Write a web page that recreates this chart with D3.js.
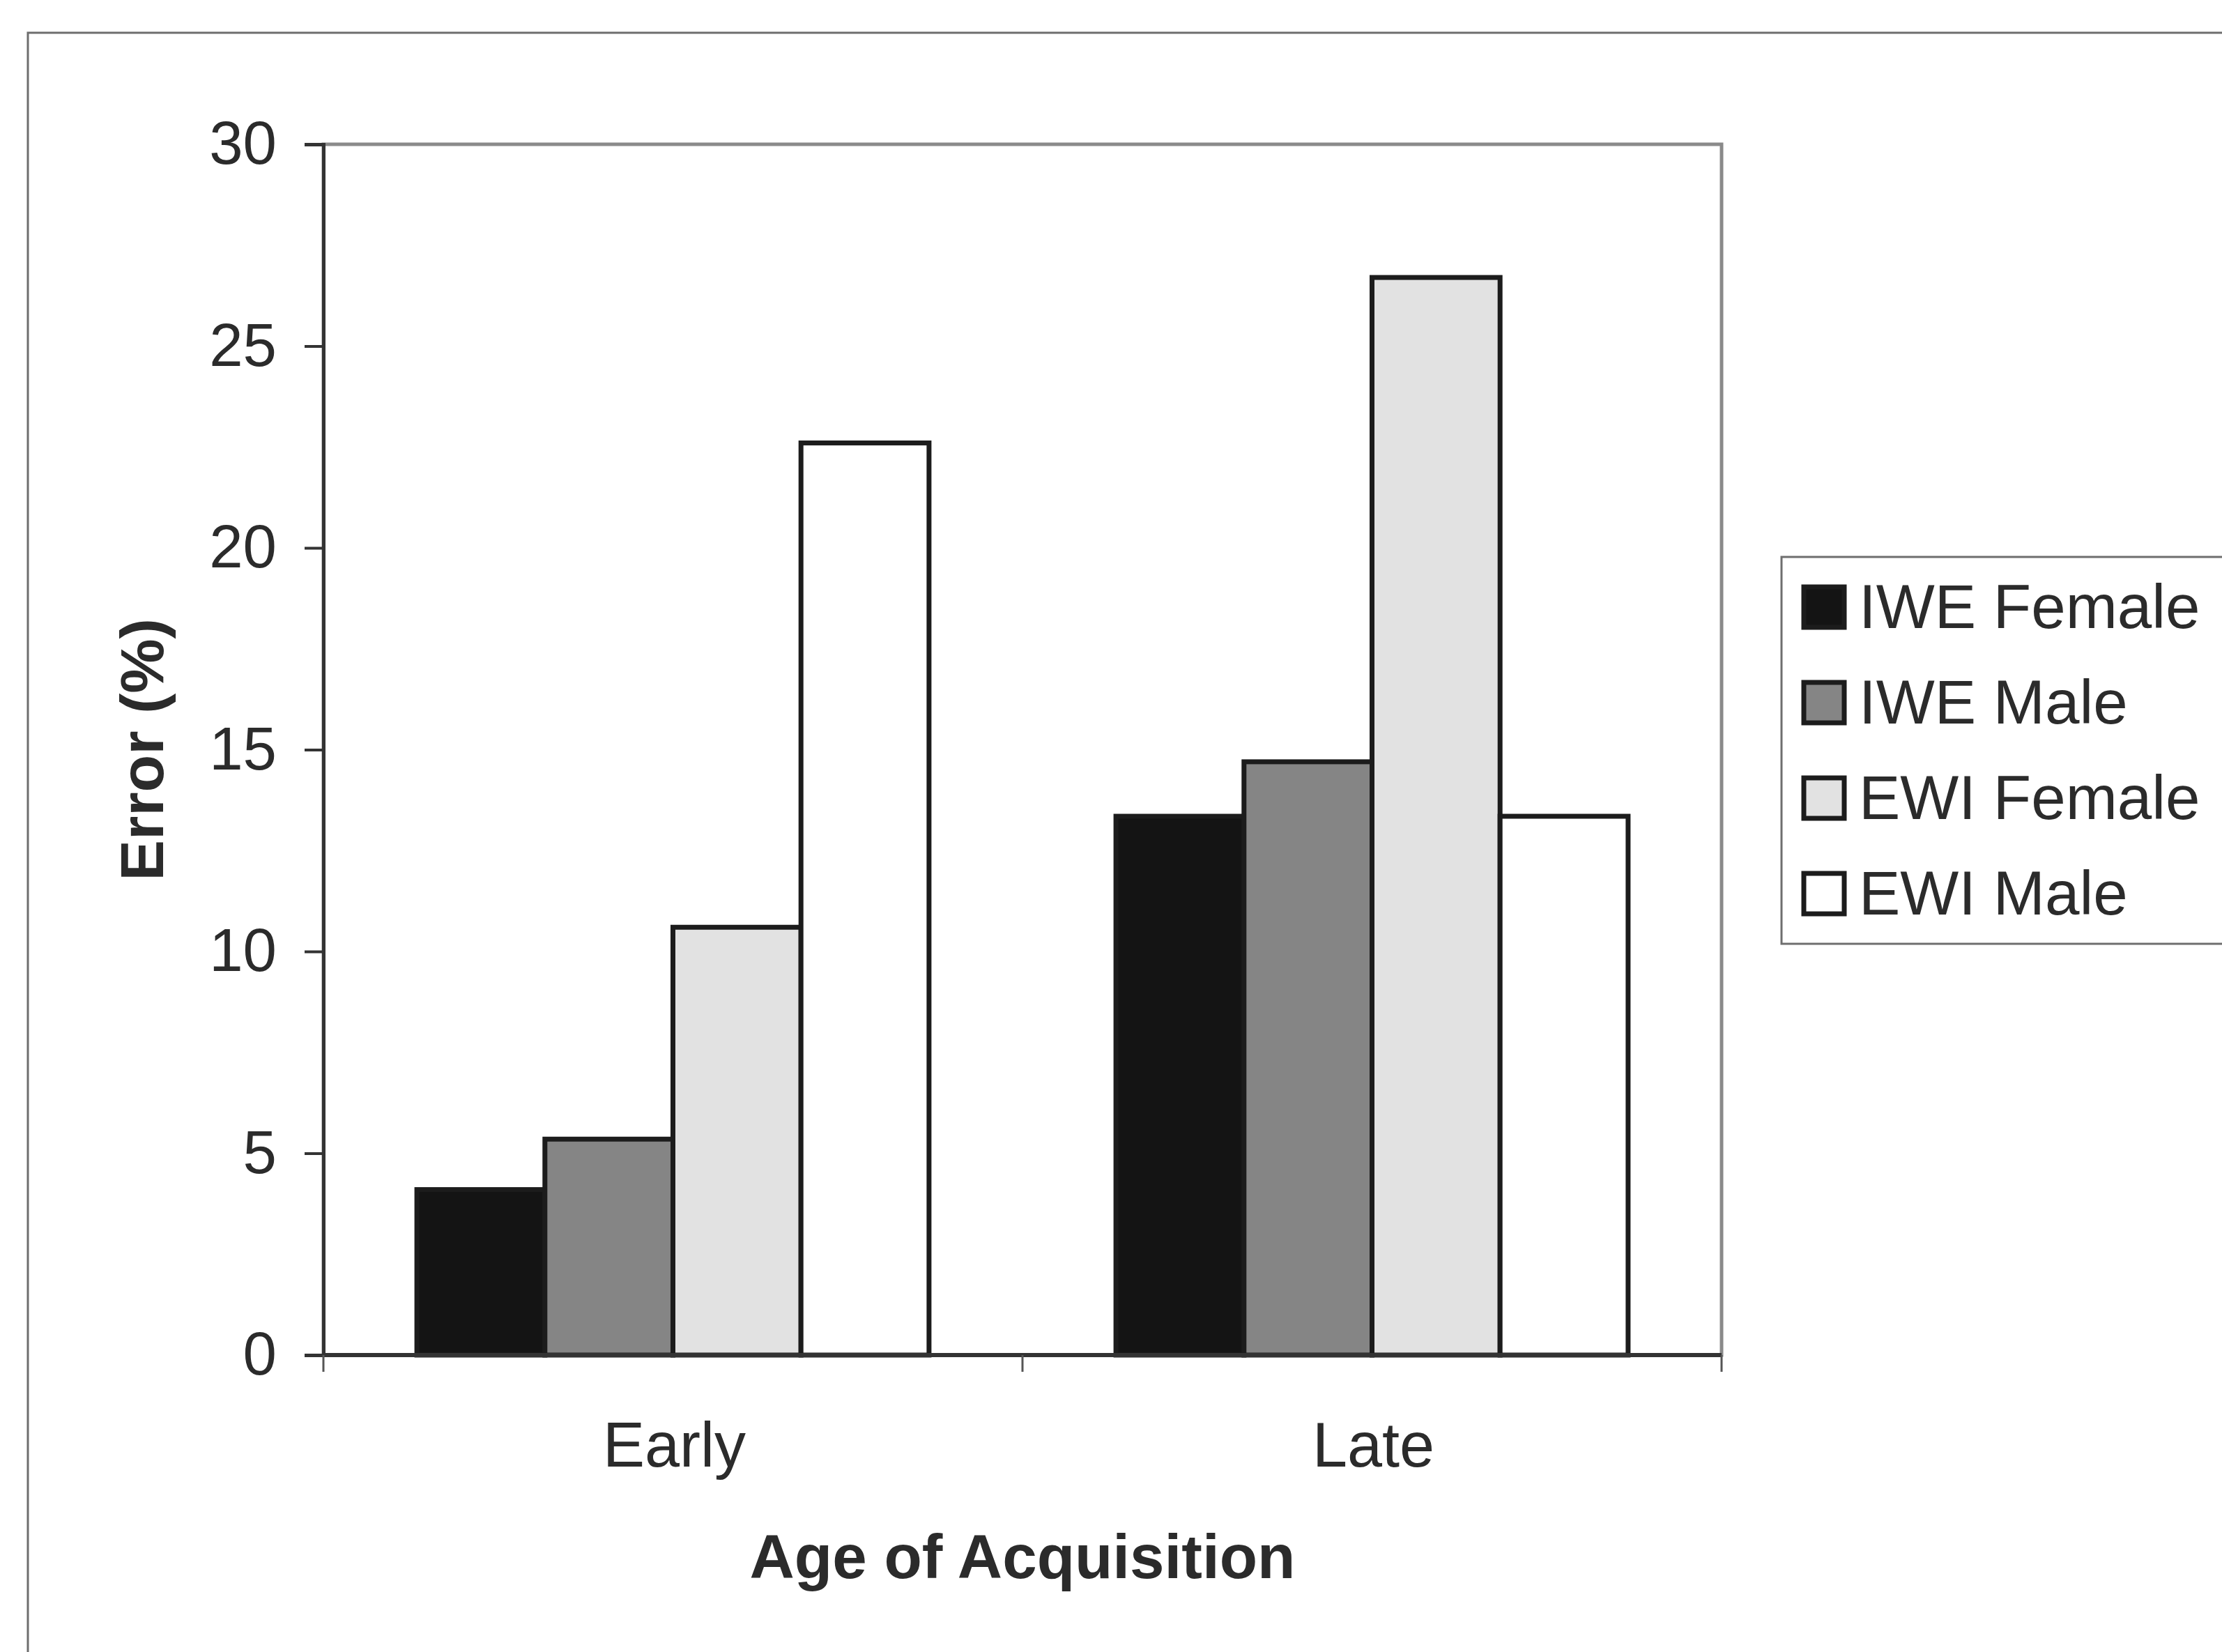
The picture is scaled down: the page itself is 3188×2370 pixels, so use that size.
<!DOCTYPE html>
<html>
<head>
<meta charset="utf-8">
<script src="https://cdn.jsdelivr.net/npm/d3@7"></script>
<style>
  html, body { margin: 0; padding: 0; background: #fff; }
  svg { display: block; }
  text { font-family: "Liberation Sans", Arial, sans-serif; fill: #2b2b2b; }
</style>
</head>
<body>
<svg id="chart" width="3188" height="2370"></svg>
<script>
// Error rates (%) by age of acquisition, for each task/sex group
const categories = ["Early", "Late"];
const seriesNames = ["IWE Female", "IWE Male", "EWI Female", "EWI Male"];
const iweFemale = [4.1, 13.35];
const iweMale = [5.35, 14.7];
const ewiFemale = [10.6, 26.7];
const ewiMale = [22.6, 13.35];
const yTicks = [0, 5, 10, 15, 20, 25, 30];

const seriesValues = [iweFemale, iweMale, ewiFemale, ewiMale];
const fills = ["#141414", "#858585", "#e2e2e2", "#ffffff"];

const svg = d3.select("#chart");
const plot = { left: 464, right: 2470, top: 207, bottom: 1944 };

// outer chart frame (runs past the right and bottom edges)
svg.append("rect")
  .attr("x", 40).attr("y", 47)
  .attr("width", 3400).attr("height", 2500)
  .attr("fill", "#fff").attr("stroke", "#6e6e6e").attr("stroke-width", 3);

const y = d3.scaleLinear().domain([0, 30]).range([plot.bottom, plot.top]);
const x0 = d3.scaleBand().domain(categories).range([plot.left, plot.right]).padding(0);
const x1 = d3.scaleBand().domain(seriesNames).range([0, x0.bandwidth()])
  .paddingInner(0).paddingOuter(0.73);

// plot area border
svg.append("rect")
  .attr("x", plot.left).attr("y", plot.top)
  .attr("width", plot.right - plot.left).attr("height", plot.bottom - plot.top)
  .attr("fill", "#fff").attr("stroke", "#8a8a8a").attr("stroke-width", 5);

// bars
const rows = categories.map((c, i) => ({ cat: c, vals: seriesNames.map((s, j) => ({ s, j, v: seriesValues[j][i] })) }));
const groups = svg.append("g").selectAll("g").data(rows).join("g")
  .attr("transform", d => `translate(${x0(d.cat)},0)`);
groups.selectAll("rect").data(d => d.vals).join("rect")
  .attr("x", d => x1(d.s))
  .attr("y", d => y(d.v))
  .attr("width", x1.bandwidth())
  .attr("height", d => y(0) - y(d.v))
  .attr("fill", d => fills[d.j])
  .attr("stroke", "#1c1c1c")
  .attr("stroke-width", 7);

// y axis
const yAxis = svg.append("g")
  .attr("transform", `translate(${plot.left},0)`)
  .call(d3.axisLeft(y).tickValues(yTicks).tickSize(27).tickPadding(40).tickFormat(d3.format("d")));
yAxis.select(".domain").attr("stroke", "#333").attr("stroke-width", 5);
yAxis.selectAll(".tick line").attr("stroke", "#333").attr("stroke-width", 4);
yAxis.selectAll(".tick text")
  .attr("font-size", 87).attr("fill", "#2b2b2b")
  .style("font-family", "'Liberation Sans', Arial, sans-serif");

// x axis line with ticks at category boundaries
const xAxis = svg.append("g");
xAxis.append("line")
  .attr("x1", plot.left).attr("x2", plot.right)
  .attr("y1", y(0)).attr("y2", y(0))
  .attr("stroke", "#333").attr("stroke-width", 6);
const bounds = categories.map(c => x0(c)).concat([x0(categories[categories.length - 1]) + x0.bandwidth()]);
xAxis.selectAll("line.tk").data(bounds).join("line").attr("class", "tk")
  .attr("x1", d => d).attr("x2", d => d)
  .attr("y1", y(0)).attr("y2", y(0) + 24)
  .attr("stroke", "#555").attr("stroke-width", 3);
xAxis.selectAll("text").data(categories).join("text")
  .attr("x", d => x0(d) + x0.bandwidth() / 2 + 2)
  .attr("y", 2104)
  .attr("text-anchor", "middle")
  .attr("font-size", 90)
  .text(d => d);

// axis titles
svg.append("text")
  .attr("x", 1467).attr("y", 2264)
  .attr("text-anchor", "middle")
  .attr("font-size", 89).attr("font-weight", "bold")
  .text("Age of Acquisition");
svg.append("text")
  .attr("transform", `translate(234,${(plot.top + plot.bottom) / 2}) rotate(-90)`)
  .attr("text-anchor", "middle")
  .attr("font-size", 88).attr("font-weight", "bold")
  .text("Error (%)");

// legend
const legend = svg.append("g");
legend.append("rect")
  .attr("x", 2556).attr("y", 799)
  .attr("width", 800).attr("height", 555)
  .attr("fill", "#fff").attr("stroke", "#6e6e6e").attr("stroke-width", 3);
const items = legend.selectAll("g").data(seriesNames).join("g")
  .attr("transform", (d, i) => `translate(0,${870 + i * 137})`);
items.append("rect")
  .attr("x", 2588).attr("y", -28)
  .attr("width", 58).attr("height", 58)
  .attr("fill", (d, i) => fills[i])
  .attr("stroke", "#1c1c1c").attr("stroke-width", 7);
items.append("text")
  .attr("x", 2667).attr("y", 31)
  .attr("font-size", 89)
  .text(d => d);
</script>
</body>
</html>
